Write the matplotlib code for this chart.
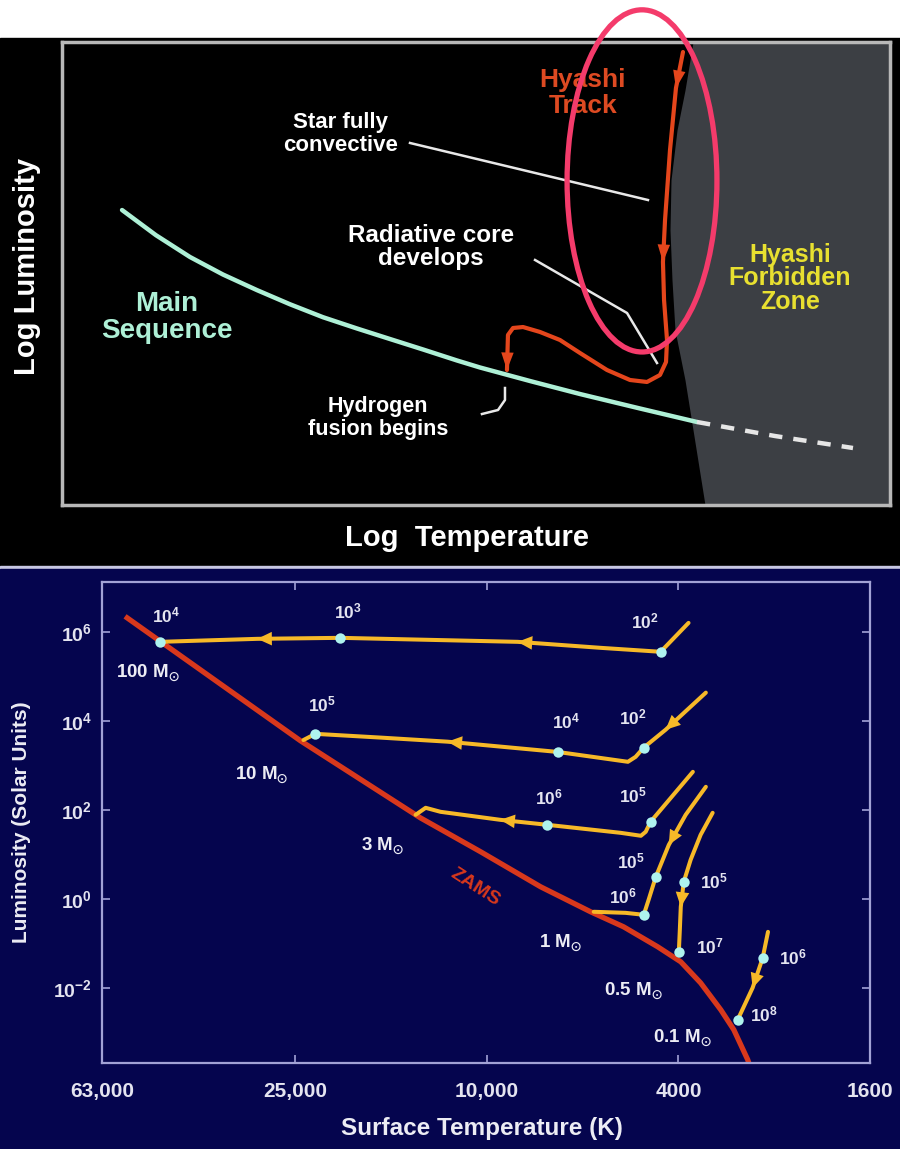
import numpy as np
import matplotlib.pyplot as plt
from matplotlib.patches import Rectangle, Ellipse

plt.rcParams['font.family'] = ['Liberation Sans', 'DejaVu Sans']
plt.rcParams['font.weight'] = 'bold'
plt.rcParams['mathtext.fontset'] = 'custom'
plt.rcParams['mathtext.rm'] = 'Liberation Sans:bold'
plt.rcParams['mathtext.it'] = 'Liberation Sans:bold'
plt.rcParams['mathtext.bf'] = 'Liberation Sans:bold'
plt.rcParams['mathtext.fallback'] = 'stixsans'

# ---------- top panel: schematic HR diagram (box units, 0-100) ----------
ms_x = [7.25, 11.35, 15.46, 19.44, 23.55, 27.54, 31.52, 35.63, 39.61, 43.60, 47.71, 50.48, 56.52, 62.56, 69.81, 76.69]
ms_y = [63.71, 58.27, 53.56, 49.78, 46.41, 43.35, 40.56, 38.12, 35.85, 33.59, 31.21, 29.70, 26.78, 23.97, 20.84, 17.93]
ms_dash_x = [76.69, 86.11, 95.53]
ms_dash_y = [17.93, 14.90, 12.31]

hy_x = [75.00, 74.15, 73.43, 72.83, 72.58, 72.71, 73.07, 72.95, 72.22, 70.65, 68.60, 65.82, 62.56,
        60.14, 57.73, 55.68, 54.47, 53.86, 53.74]
hy_y = [97.84, 90.06, 76.67, 61.56, 52.48, 44.28, 35.64, 30.89, 28.08, 26.57, 27.00, 29.16, 32.83,
        35.64, 37.37, 38.44, 38.23, 36.72, 29.16]
hy_arrows = [1, 4, 18]

forbid_x = [76.21, 75.24, 74.28, 73.55, 73.43, 73.67, 74.03, 75.24, 76.21, 77.66]
forbid_y = [100.0, 89.6, 81.0, 70.2, 59.4, 48.6, 37.8, 27.0, 16.2, 0.0]

conv_x, conv_y = [42.03, 70.77], [78.19, 65.87]
rad_x, rad_y = [57.13, 68.24, 71.86], [52.92, 41.47, 30.67]
hfus_x, hfus_y = [53.50, 53.50, 52.66, 50.72], [25.27, 22.68, 20.52, 19.65]

# ---------- bottom panel: pre-main-sequence tracks ----------
zams_T = [55850, 24380, 13740, 10300, 7730, 6085, 5200, 4416, 3955, 3597, 3266, 3069, 2871, 2805]
zams_L = [2.06e6, 3.56e3, 66, 11.4, 1.86, 0.51, 0.235, 0.0834, 0.0384, 0.0129, 0.0032, 0.00114,
          2.41e-4, 1.11e-4]

t100_T = [3811, 4355, 5804, 8630, 20140, 29980, 47660]
t100_L = [1.59e6, 3.56e5, 4.37e5, 5.96e5, 7.33e5, 6.96e5, 5.96e5]
t10_T = [3508, 4253, 4722, 4909, 5093, 7129, 12070, 16630, 22700, 24040]
t10_L = [4.3e4, 6.3e3, 2.5e3, 1.55e3, 1.2e3, 2.0e3, 3.4e3, 4.2e3, 5.1e3, 3.7e3]
t3_T = [3733, 4571, 4677, 4786, 5272, 7482, 9376, 12480, 13400, 14060]
t3_L = [714, 53.7, 32.1, 26.1, 30.4, 46.0, 59.6, 90.2, 111, 77.2]
t1_T = [3508, 3864, 4188, 4457, 4613, 4722, 5152, 5998]
t1_L = [329, 77.2, 16.3, 3.12, 0.95, 0.437, 0.484, 0.511]
t05_T = [3396, 3597, 3773, 3899, 3955, 3973, 3992]
t05_L = [85.7, 27.4, 7.52, 2.41, 0.661, 0.201, 0.0644]
t01_T = [2606, 2673, 2805, 3013]
t01_L = [0.181, 0.0472, 0.0100, 0.00191]

masses = ['100', '10', '3', '1', '0.5', '0.1']
# vertex index of each age dot and its age exponent (years)
dot_idx = [[1, 4, 6], [2, 5, 8], [1, 5], [3, 5], [3, 6], [1, 3]]
dot_age = [[2, 3, 4], [2, 4, 5], [5, 6], [5, 6], [5, 7], [6, 8]]
arrow_idx = [[3, 5], [1, 6], [6], [2], [4], [2]]

x_ticks = [63000, 25000, 10000, 4000, 1600]
x_ticklabels = ['63,000', '25,000', '10,000', '4000', '1600']
y_ticks = [1e6, 1e4, 1e2, 1e0, 1e-2]
y_ticklabels = ['10$^{6}$', '10$^{4}$', '10$^{2}$', '10$^{0}$', '10$^{-2}$']

# ---------- figure ----------
H = 1149.0
fig = plt.figure(figsize=(9, 11.49), dpi=100)
fig.patch.set_facecolor('white')
fig.patches.append(Rectangle((0, 1 - 566 / H), 1, 528 / H, transform=fig.transFigure,
                             color='black', zorder=-5))
fig.patches.append(Rectangle((0, 1 - 569 / H), 1, 3 / H, transform=fig.transFigure,
                             color='#c8c8e4', zorder=-5))
fig.patches.append(Rectangle((0, 0), 1, 1 - 569 / H, transform=fig.transFigure,
                             color='#05054e', zorder=-5))

# --- top schematic ---
ax1 = fig.add_axes([62 / 900, 1 - 505 / H, 828 / 900, 463 / H])
ax1.set_facecolor('black')
ax1.set_xlim(0, 100)
ax1.set_ylim(0, 100)
ax1.set_xticks([])
ax1.set_yticks([])
for s in ax1.spines.values():
    s.set_color('#b8b8b8')
    s.set_linewidth(2.5)

ax1.fill_betweenx(forbid_y, forbid_x, 100, color='#3c3f44', lw=0)
ax1.plot(ms_x, ms_y, color='#aef0d6', lw=3.2, solid_capstyle='round', solid_joinstyle='round')
ax1.plot(ms_dash_x, ms_dash_y, color='#e6e6e6', lw=3.2, ls=(0, (3, 2.5)))
ax1.plot(conv_x, conv_y, color='#e8e8e8', lw=1.8)
ax1.plot(rad_x, rad_y, color='#e8e8e8', lw=1.8)
ax1.plot(hfus_x, hfus_y, color='#e8e8e8', lw=1.8)
red = '#e4461c'
ax1.plot(hy_x, hy_y, color=red, lw=3.0, solid_capstyle='round', solid_joinstyle='round')
for i in hy_arrows:
    ax1.annotate('', xy=(hy_x[i], hy_y[i]), xytext=(hy_x[i - 1], hy_y[i - 1]),
                 arrowprops=dict(arrowstyle='-|>,head_length=0.9,head_width=0.32', color=red,
                                 lw=0, shrinkA=0, shrinkB=0, mutation_scale=14))

ax1.text(62.9, 89.0, 'Hyashi\nTrack', color='#dd4a22', fontsize=19, ha='center', va='center', linespacing=1.1)
ax1.text(33.6, 80.1, 'Star fully\nconvective', color='white', fontsize=16, ha='center', va='center', linespacing=1.1)
ax1.text(44.6, 55.7, 'Radiative core\ndevelops', color='white', fontsize=17.5, ha='center', va='center', linespacing=1.0)
ax1.text(12.7, 40.6, 'Main\nSequence', color='#aef0d6', fontsize=20, ha='center', va='center', linespacing=1.05)
ax1.text(38.2, 18.8, 'Hydrogen\nfusion begins', color='white', fontsize=15.5, ha='center', va='center', linespacing=1.1)
ax1.text(87.9, 49.0, 'Hyashi\nForbidden\nZone', color='#e8e030', fontsize=18, ha='center', va='center', linespacing=0.98)

ax1.add_patch(Ellipse((70.05, 70.0), 18.1, 73.9, angle=0, fill=False, ec='#f43b6b', lw=3.8,
                      clip_on=False, zorder=10))

fig.text(27 / 900, 1 - 266 / H, 'Log Luminosity', rotation=90, color='white', fontsize=21,
         ha='center', va='center')
fig.text(467 / 900, 1 - 538 / H, 'Log  Temperature', color='white', fontsize=21,
         ha='center', va='center')

# --- bottom evolutionary tracks ---
ax2 = fig.add_axes([102 / 900, 1 - 1063 / H, 768 / 900, 481 / H])
ax2.set_facecolor('#05054e')
ax2.set_xscale('log')
ax2.set_yscale('log')
ax2.set_xlim(63000, 1600)
ax2.set_ylim(10 ** -3.69, 10 ** 7.12)
spine_col = '#a2a2d6'
for s in ax2.spines.values():
    s.set_color(spine_col)
    s.set_linewidth(1.6)
ax2.set_xticks(x_ticks)
ax2.set_xticklabels(x_ticklabels)
ax2.set_yticks(y_ticks)
ax2.set_yticklabels(y_ticklabels)
ax2.minorticks_off()
ax2.tick_params(direction='in', top=True, right=True, length=6, width=1.2, color=spine_col,
                labelcolor='#e4e4f0', labelsize=14)
ax2.tick_params(axis='x', pad=14, labelsize=15)
ax2.tick_params(axis='y', pad=7)

ax2.plot(zams_T, zams_L, color='#d8381c', lw=3.8, zorder=2, solid_joinstyle='round')
ax2.text(10570, 1.77, 'ZAMS', color='#d8381c', fontsize=14, rotation=-33,
         ha='center', va='center')

track_col = '#f7b928'
tracks = [(t100_T, t100_L), (t10_T, t10_L), (t3_T, t3_L), (t1_T, t1_L), (t05_T, t05_L), (t01_T, t01_L)]
age_offsets = [[(-11, 22), (5, 19), (4, 19)], [(-8, 22), (6, 22), (5, 21)], [(-13, 19), (1, 20)],
               [(-18, 11), (-15, 13)], [(22, 0), (22, 4)], [(22, 0), (19, 4)]]
mass_offsets = [(-9, -22), (-30, -25), (-24, -22), (-24, -22), (-33, -28), (-40, -13)]

for k, (T, L) in enumerate(tracks):
    ax2.plot(T, L, color=track_col, lw=2.9, solid_capstyle='round', solid_joinstyle='round', zorder=3)
    for i in arrow_idx[k]:
        ax2.annotate('', xy=(T[i], L[i]), xytext=(T[i - 1], L[i - 1]),
                     arrowprops=dict(arrowstyle='-|>,head_length=0.75,head_width=0.35', color=track_col,
                                     lw=0, shrinkA=0, shrinkB=0, mutation_scale=14), zorder=4)
    for j, i in enumerate(dot_idx[k]):
        ax2.plot(T[i], L[i], 'o', ms=7.5, mfc='#aef3ee', mec='none', zorder=5)
        ax2.annotate('10$^{%d}$' % dot_age[k][j], xy=(T[i], L[i]), xytext=age_offsets[k][j],
                     textcoords='offset points', color='#e4e4f0', fontsize=12.5,
                     ha='center', va='center')
    ax2.annotate(masses[k] + ' M$_{\\odot}$', xy=(T[-1], L[-1]), xytext=mass_offsets[k],
                 textcoords='offset points', color='#ececf4', fontsize=13.5,
                 ha='center', va='center')

fig.text(482 / 900, 1 - 1128 / H, 'Surface Temperature (K)', color='#ececf4', fontsize=17.5,
         ha='center', va='center')
fig.text(22 / 900, 1 - 822 / H, 'Luminosity (Solar Units)', rotation=90, color='#ececf4',
         fontsize=15, ha='center', va='center')

fig.savefig('out.png', dpi=100, facecolor=fig.get_facecolor())
